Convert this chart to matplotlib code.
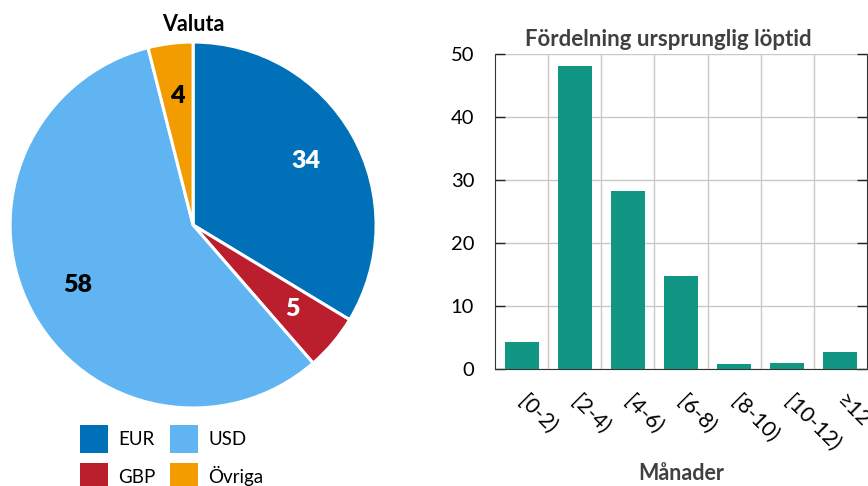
import matplotlib
matplotlib.use("Agg")
import matplotlib.pyplot as plt
from matplotlib.patches import Patch

plt.rcParams['font.family'] = ['Lato', 'DejaVu Sans']

# pie data
currencies = ['EUR', 'GBP', 'USD', 'Övriga']
shares = [34, 5, 58, 4]
pie_colors = ['#0070b8', '#bb1e2d', '#60b4f2', '#f39c00']
label_colors = ['white', 'white', 'black', 'black']

# bar data
buckets = ['[0-2)', '[2-4)', '[4-6)', '[6-8)', '[8-10)', '[10-12)', '≥12']
counts = [4.25, 48.1, 28.2, 14.7, 0.8, 0.95, 2.7]

fig = plt.figure(figsize=(8.68, 4.86), dpi=100)

# --- pie ---
ax1 = fig.add_axes([0.0116, 0.1605, 0.4217, 0.753])
wedges, texts = ax1.pie(shares, colors=pie_colors, startangle=90, counterclock=False,
                        labels=[str(s) for s in shares], labeldistance=0.71,
                        wedgeprops=dict(edgecolor='white', linewidth=2.2))
for t, c in zip(texts, label_colors):
    t.set_color(c)
    t.set_fontsize(18)
    t.set_fontweight('heavy')
    t.set_ha('center')
    t.set_va('center')
ax1.set_xlim(-1, 1)
ax1.set_ylim(-1, 1)
ax1.set_aspect('equal')
fig.text(0.2224, 0.950, 'Valuta', ha='center', va='center', fontsize=15.5, fontweight='bold')

handles = [Patch(facecolor=c) for c in pie_colors]
fig.legend(handles, currencies, ncol=2, loc='upper left', bbox_to_anchor=(0.0922, 0.1255),
           frameon=False, fontsize=13.5, handlelength=1.49, handleheight=1.92,
           handletextpad=0.53, columnspacing=0.8, labelspacing=0.53, borderpad=0,
           borderaxespad=0)

# --- bars ---
ax2 = fig.add_axes([0.5703, 0.2407, 0.4285, 0.648])
x = range(len(buckets))
ax2.bar(x, counts, width=0.64, color='#119683', zorder=3)
ax2.set_xlim(-0.5, len(buckets) - 0.5)
ax2.set_ylim(0, 50)
ax2.set_yticks([0, 10, 20, 30, 40, 50])
ax2.set_xticks(list(x))
ax2.set_xticklabels(buckets, rotation=-45, ha='left', va='center', rotation_mode='anchor',
                    fontsize=15.5)
ax2.set_xticks([i + 0.5 for i in range(len(buckets) - 1)], minor=True)
ax2.grid(True, which='minor', axis='x', color='#c8c8c8', linewidth=1)
ax2.grid(True, which='major', axis='y', color='#c8c8c8', linewidth=1)
ax2.tick_params(axis='x', which='both', length=0, pad=21)
ax2.tick_params(axis='y', direction='in', length=7, width=1, labelsize=14.5,
                right=True, pad=15, color='#222222')
ax2.spines['top'].set_visible(False)
for s in ['left', 'right', 'bottom']:
    ax2.spines[s].set_color('#333333')
ax2.set_title('Fördelning ursprunglig löptid', fontsize=16, fontweight='bold',
              color='#404040', pad=6, x=0.466)
fig.text(0.7846, 0.026, 'Månader', ha='center', va='center', fontsize=15.5,
         fontweight='bold', color='#404040')

fig.savefig('out.png', dpi=100)
